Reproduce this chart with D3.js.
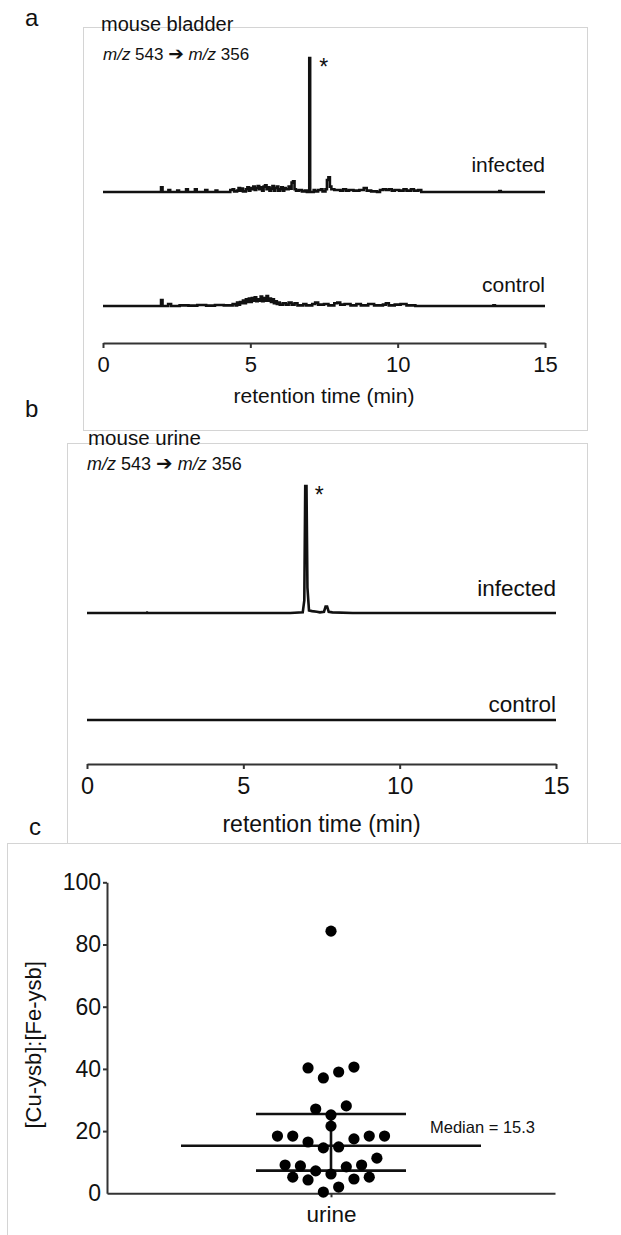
<!DOCTYPE html>
<html><head><meta charset="utf-8">
<script src="https://cdn.jsdelivr.net/npm/d3@7"></script>
<style>
body{margin:0;background:#fff}
svg{display:block}
text{font-family:"Liberation Sans",Arial,Helvetica,sans-serif;fill:#111}
</style>
</head><body>
<svg id="chart" width="621" height="1235"></svg>
<script>
// ---------------- DATA ----------------
const timeTicks = [0, 5, 10, 15];
const traceLabels = ["infected", "control"];

// panel a – mouse bladder (relative intensity, main peak = 100)
const bladderInfectedTime = [0,1.95,1.97,2.0,2.02,2.2,2.22,2.26,2.28,2.5,2.52,2.56,2.58,2.8,2.82,2.86,2.88,3.1,3.12,3.16,3.18,3.45,3.47,3.52,3.54,3.8,3.82,3.86,3.88,4.3,4.32,4.4,4.45,4.55,4.6,4.65,4.7,4.75,4.85,4.9,4.95,5.0,5.05,5.1,5.15,5.2,5.25,5.3,5.35,5.4,5.45,5.5,5.55,5.6,5.65,5.7,5.75,5.8,5.85,5.9,5.95,6.0,6.05,6.1,6.15,6.2,6.3,6.35,6.4,6.45,6.5,6.55,6.65,6.75,6.85,6.92,7.0,7.03,7.08,7.15,7.2,7.3,7.4,7.45,7.55,7.6,7.65,7.7,7.75,7.85,7.95,8.05,8.15,8.25,8.35,8.5,8.7,8.85,8.95,9.1,9.3,9.4,9.5,9.6,9.7,9.8,9.9,10.05,10.2,10.3,10.45,10.55,10.7,10.8,13.4,13.45,13.5,15];
const bladderInfectedIntensity = [0,0,3.5,3.5,0,0,1.5,1.5,0,0,1,1,0,0,2,2,0,0,2,2,0,0,1.5,1.5,0,0,1,1,0,0,1.5,2,0.5,1,3,1,2.5,0.5,2,3.5,1,3,2,4,1.5,3,4.5,2,3.5,1,4,5,2,3.5,1,2.5,4.5,1,3,4,1,2,3.5,1,3,2,4,2.5,7,8,2,1,1.5,0.5,1,0,100,0,0,1.5,0.5,1.5,2,0.5,2,9,11,4,2,1.5,1.5,1,2,1,1.5,1,1.5,3,1,0.5,0,1.5,2,1.5,2,1,1.5,1,2,1,2,1,1.5,0,0,0.8,0,0];
const bladderControlTime = [0,1.96,1.97,2.01,2.02,2.2,2.21,2.3,2.31,2.6,2.9,3.2,3.5,3.8,4.1,4.4,4.5,4.55,4.6,4.65,4.7,4.75,4.8,4.85,4.9,4.95,5.0,5.05,5.1,5.15,5.2,5.25,5.3,5.35,5.4,5.45,5.5,5.55,5.6,5.65,5.7,5.75,5.8,5.85,5.9,5.95,6.0,6.1,6.2,6.3,6.4,6.5,6.6,6.8,6.9,7.1,7.2,7.3,7.5,7.65,7.85,7.95,8.05,8.2,8.4,8.6,8.75,9.0,9.2,9.5,9.6,9.7,9.9,10.1,10.3,10.6,13.2,13.25,13.3,15];
const bladderControlIntensity = [0,0,4.5,4.5,0,0,1.5,1.5,0,0.5,0.3,0.8,0.3,0.8,0.5,1.5,0.5,2.5,1,3,2,4,2,5,3,5.5,3,6,4,6.5,3.5,5,4,7,3.5,6,4,7.5,4,5.5,3,5,2,3.5,1.5,2.5,1,2,1,2.5,1,2,0.5,1.5,0.5,1.5,2.5,1,1.5,0.5,2,2.5,1,1.5,0.5,1.5,0.5,1.5,0.5,1,2,0.5,1,1.5,0.5,0,0,0.5,0,0];

// panel b – mouse urine
const urineInfectedTime = [0,1.9,1.92,1.95,6.5,6.9,6.95,6.98,7.02,7.05,7.1,7.2,7.35,7.45,7.58,7.63,7.68,7.73,7.85,8.5,15];
const urineInfectedIntensity = [0,0,0.4,0,0,0.5,10,100,100,20,2,1.5,1,0.5,1,5,5,1,0.5,0,0];
const urineControlTime = [0,15];
const urineControlIntensity = [0,0];

// panel c – [Cu-ysb]:[Fe-ysb] ratios in urine
const categories = ["urine"];
const urineRatios = [84.3,40.6,39.0,37.1,40.3,28.1,27.1,25.2,21.6,18.4,18.4,16.5,14.6,14.9,17.5,18.4,18.4,11.3,9.1,8.8,7.2,8.5,9.1,5.2,4.3,6.2,4.6,5.2,2.0,0.4];
const statNames = ["Q1", "Median", "Q3"];
const statValues = [7.3, 15.3, 25.5];
const ratioTicks = [0, 20, 40, 60, 80, 100];

// ---------------- DRAWING ----------------
const svg = d3.select("#chart");
const frameColor = "#d4d4d4";
const ink = "#111";

function frame(x1, y1, x2, y2) {
  svg.append("rect").attr("x", x1 + 0.5).attr("y", y1 + 0.5)
    .attr("width", x2 - x1).attr("height", y2 - y1)
    .attr("fill", "none").attr("stroke", frameColor).attr("stroke-width", 1);
}
function panelLetter(t, x, y) {
  svg.append("text").attr("x", x).attr("y", y).attr("font-size", 24).text(t);
}
function mzLabel(x, y, size) {
  const t = svg.append("text").attr("x", x).attr("y", y).attr("font-size", size).attr("fill", "#222");
  t.append("tspan").attr("font-style", "italic").text("m/z");
  t.append("tspan").text(" 543 ");
  t.append("tspan").attr("font-family", "DejaVu Sans").attr("font-weight", "bold")
    .attr("font-size", size * 1.1).text("\u2794");
  t.append("tspan").text(" ");
  t.append("tspan").attr("font-style", "italic").text("m/z");
  t.append("tspan").text(" 356");
}

// frames
frame(83, 27, 587, 430);
frame(67, 443, 587, 843);
svg.append("line").attr("x1", 7.5).attr("x2", 7.5).attr("y1", 843).attr("y2", 1235).attr("stroke", frameColor);
svg.append("line").attr("x1", 7).attr("x2", 621).attr("y1", 843.5).attr("y2", 843.5).attr("stroke", frameColor);
svg.append("rect").attr("x", 8).attr("y", 820).attr("width", 59).attr("height", 23).attr("fill", "#fff");
svg.append("line").attr("x1", 67.5).attr("x2", 67.5).attr("y1", 820).attr("y2", 843).attr("stroke", frameColor);

function chromPanel(opts) {
  const x = d3.scaleLinear().domain([0, 15]).range([opts.x0, opts.x1]);
  const traces = [
    {t: opts.infT, v: opts.infV, base: opts.infBase, label: traceLabels[0], labelY: opts.infLabelY},
    {t: opts.ctlT, v: opts.ctlV, base: opts.ctlBase, label: traceLabels[1], labelY: opts.ctlLabelY}
  ];
  traces.forEach(tr => {
    const y = d3.scaleLinear().domain([0, 100]).range([tr.base, tr.base - opts.peakPx]);
    const pts = tr.t.map((tt, i) => [tt, tr.v[i]]);
    svg.append("path").datum(pts)
      .attr("d", d3.line().curve(opts.curve).x(d => x(d[0])).y(d => y(d[1])))
      .attr("fill", "none").attr("stroke", ink).attr("stroke-width", 2.6)
      .attr("stroke-linejoin", "miter");
    svg.append("text").attr("x", opts.x1).attr("y", tr.labelY)
      .attr("text-anchor", "end").attr("font-size", opts.labelSize).text(tr.label);
  });
  // asterisk on main peak
  svg.append("text").attr("x", x(7.0) + opts.starDx).attr("y", opts.infBase - opts.peakPx + 17)
    .attr("font-size", 23).text("*");
  const ax = svg.append("g").attr("transform", `translate(0,${opts.axisY})`)
    .call(d3.axisBottom(x).tickValues(timeTicks).tickFormat(d3.format("d"))
      .tickSize(5).tickSizeOuter(0).tickPadding(opts.tickPad));
  ax.select(".domain").attr("stroke", "#333").attr("stroke-width", 2);
  ax.selectAll(".tick line").attr("stroke", "#333").attr("stroke-width", 2);
  ax.selectAll(".tick text").attr("font-size", opts.tickSize).attr("fill", ink)
    .attr("font-family", "'Liberation Sans',Arial,sans-serif");
  svg.append("text").attr("x", (opts.x0 + opts.x1) / 2).attr("y", opts.titleY)
    .attr("text-anchor", "middle").attr("font-size", opts.titleSize).text("retention time (min)");
}

// panel a
panelLetter("a", 25, 26);
svg.append("text").attr("x", 101).attr("y", 31).attr("font-size", 20).text("mouse bladder");
mzLabel(103, 60, 17);
chromPanel({x0: 103, x1: 545, infBase: 192, ctlBase: 306, peakPx: 134, curve: d3.curveStepAfter,
  infT: bladderInfectedTime, infV: bladderInfectedIntensity,
  ctlT: bladderControlTime, ctlV: bladderControlIntensity,
  infLabelY: 172, ctlLabelY: 292, labelSize: 21, starDx: 10,
  axisY: 343, tickPad: 8, tickSize: 22, titleY: 403, titleSize: 21});

// panel b
panelLetter("b", 25, 417);
svg.append("text").attr("x", 88).attr("y", 445).attr("font-size", 20.5).text("mouse urine");
mzLabel(87, 470, 18);
chromPanel({x0: 87, x1: 556, infBase: 613, ctlBase: 720, peakPx: 127, curve: d3.curveLinear,
  infT: urineInfectedTime, infV: urineInfectedIntensity,
  ctlT: urineControlTime, ctlV: urineControlIntensity,
  infLabelY: 596, ctlLabelY: 712, labelSize: 22.5, starDx: 9,
  axisY: 764, tickPad: 8, tickSize: 23.5, titleY: 832, titleSize: 23});

// panel c
panelLetter("c", 29, 835);
const yC = d3.scaleLinear().domain([0, 100]).range([1193.3, 882.3]);
const xC = d3.scalePoint().domain(categories).range([107, 555]).padding(0.5);

const yAx = svg.append("g").attr("transform", "translate(107,0)")
  .call(d3.axisLeft(yC).tickValues(ratioTicks).tickSize(4).tickSizeOuter(0).tickPadding(2));
yAx.select(".domain").attr("stroke", "#333").attr("stroke-width", 2);
yAx.selectAll(".tick line").attr("stroke", "#333").attr("stroke-width", 2);
yAx.selectAll(".tick text").attr("font-size", 23).attr("fill", ink)
  .attr("font-family", "'Liberation Sans',Arial,sans-serif");
yAx.selectAll(".tick").filter(d => d === 0).select("line").remove();

const xAx = svg.append("g").attr("transform", `translate(0,${yC(0)})`)
  .call(d3.axisBottom(xC).tickSize(4).tickSizeOuter(0).tickPadding(9));
xAx.select(".domain").attr("stroke", "#333").attr("stroke-width", 2);
xAx.selectAll(".tick line").attr("stroke", "#333").attr("stroke-width", 2);
xAx.selectAll(".tick text").attr("font-size", 22.5).attr("fill", ink)
  .attr("font-family", "'Liberation Sans',Arial,sans-serif");

svg.append("text").attr("transform", `translate(41,${(yC(0) + yC(100)) / 2 + 7}) rotate(-90)`)
  .attr("text-anchor", "middle").attr("font-size", 22).text("[Cu-ysb]:[Fe-ysb]");

// swarm layout (Prism style rows)
const dotR = 5.6, slotW = 7.65;
const sortedVals = urineRatios.slice().sort((a, b) => a - b);
const groups = []; let cur = [];
sortedVals.forEach(v => {
  if (cur.length && (v - cur[0] >= 5.2 || v - cur[cur.length - 1] >= 3.0)) { groups.push(cur); cur = []; }
  cur.push(v);
});
groups.push(cur);
const dots = [];
groups.forEach(g => {
  const n = g.length;
  g.forEach((v, i) => {
    let slot;
    if (n % 2 === 1) { slot = i === 0 ? 0 : (i % 2 === 1 ? -1 : 1) * 2 * Math.ceil(i / 2); }
    else { slot = (i % 2 === 0 ? -1 : 1) * (2 * Math.floor(i / 2) + 1); }
    dots.push({v, slot});
  });
});

// summary lines
const cx = xC(categories[0]);
const statHalf = {Q1: 75, Median: 150, Q3: 75};
statNames.forEach((s, i) => {
  svg.append("line").attr("x1", cx - statHalf[s]).attr("x2", cx + statHalf[s])
    .attr("y1", yC(statValues[i])).attr("y2", yC(statValues[i]))
    .attr("stroke", ink).attr("stroke-width", 2.6);
});
svg.append("line").attr("x1", cx).attr("x2", cx)
  .attr("y1", yC(statValues[0])).attr("y2", yC(statValues[2]))
  .attr("stroke", ink).attr("stroke-width", 2.6);

svg.append("g").selectAll("circle").data(dots).join("circle")
  .attr("cx", d => cx + d.slot * slotW).attr("cy", d => yC(d.v)).attr("r", dotR).attr("fill", "#000");

svg.append("text").attr("x", 430).attr("y", yC(statValues[1]) - 13)
  .attr("font-size", 16.5).text(`Median = ${statValues[1]}`);
</script>
</body></html>
